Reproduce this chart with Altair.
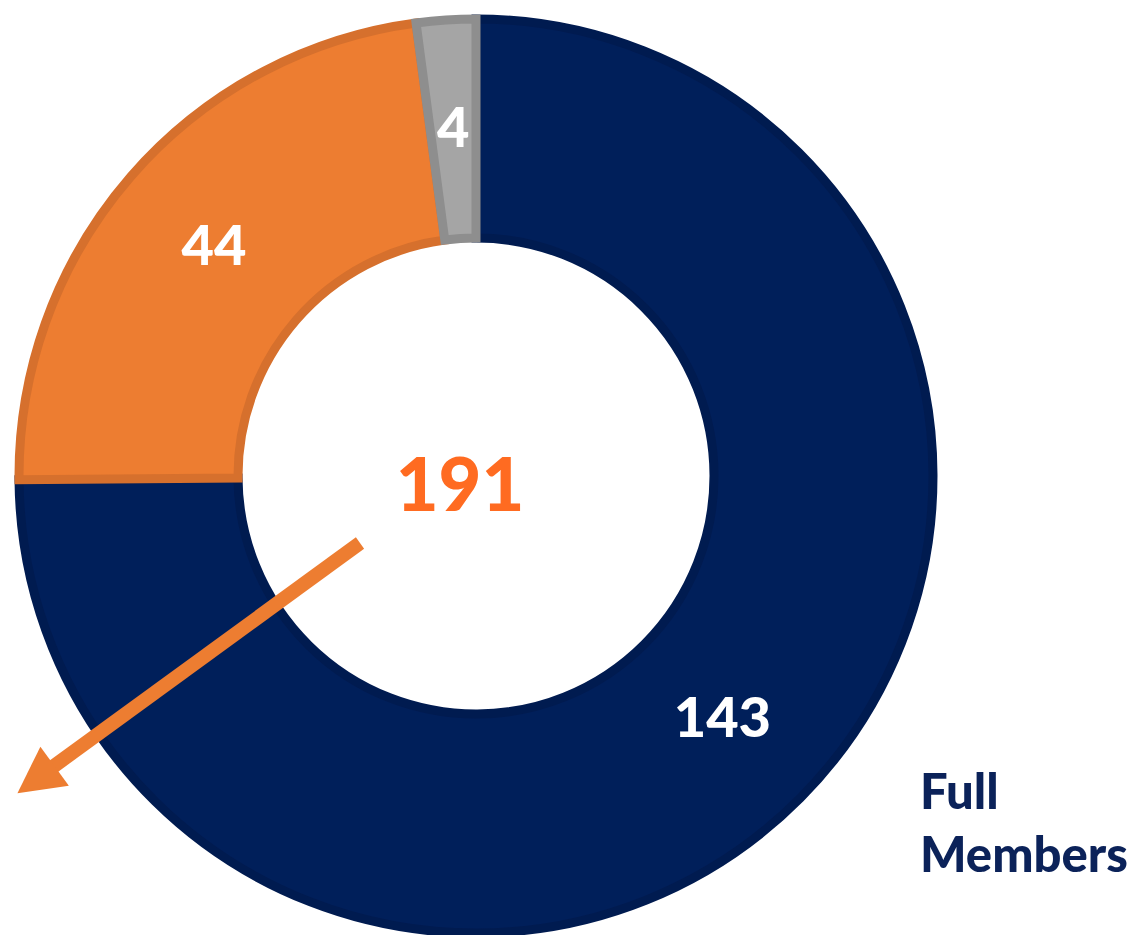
import altair as alt
import pandas as pd

# ---- data ----
categories = ["Full Members", "Group B", "Group C"]
values = [143, 44, 4]
order = [1, 2, 3]
fill_colors = ["#001F5A", "#ED7D31", "#A5A5A5"]
stroke_colors = ["#001B50", "#D6702D", "#8E8E8E"]
total_label = "191"
legend_lines = ["Full", "Members"]

df = pd.DataFrame({"cat": categories, "value": values, "order": order})
one = pd.DataFrame({"a": [0]})

CX, CY = 476, 476
FONT = "Lato"
WEIGHT = 900

base = alt.Chart(df).encode(
    theta=alt.Theta("value:Q", stack=True),
    order=alt.Order("order:Q"),
    x=alt.value(CX),
    y=alt.value(CY),
)

arcs = base.mark_arc(radius=457, innerRadius=238, strokeWidth=9).encode(
    fill=alt.Fill("cat:N", scale=alt.Scale(domain=categories, range=fill_colors), legend=None),
    stroke=alt.Stroke("cat:N", scale=alt.Scale(domain=categories, range=stroke_colors), legend=None),
)

labels = base.mark_text(
    radius=347, font=FONT, fontWeight=WEIGHT, fontSize=56, color="white", baseline="middle"
).encode(text=alt.Text("value:Q"))

total = alt.Chart(one).mark_text(
    font=FONT, fontWeight=WEIGHT, fontSize=74, color="#FF6B21", baseline="alphabetic", align="center",
    text=total_label,
).encode(x=alt.value(460), y=alt.value(511))

legend_text = alt.Chart(one).mark_text(
    font=FONT, fontWeight=WEIGHT, fontSize=49, color="#0B2259", baseline="alphabetic", align="left",
    text=legend_lines, lineHeight=63,
).encode(x=alt.value(920), y=alt.value(809))

arrow_line = alt.Chart(one).mark_rule(color="#ED7D31", strokeWidth=14, strokeCap="butt").encode(
    x=alt.value(360), y=alt.value(543), x2=alt.value(50), y2=alt.value(769)
)

arrow_head = alt.Chart(one).mark_point(
    shape="M0,-1L1,0.9L-1,0.9Z", filled=True, color="#ED7D31", opacity=1, size=2340, angle=234
).encode(x=alt.value(37), y=alt.value(779))

chart = alt.layer(arcs, labels, total, legend_text, arrow_line, arrow_head).properties(
    width=1138, height=935, padding=0, autosize=alt.AutoSizeParams(type="none"), background="white"
).configure_view(stroke=None)

chart.save("out.html", embed_options={"renderer": "svg", "actions": False})
